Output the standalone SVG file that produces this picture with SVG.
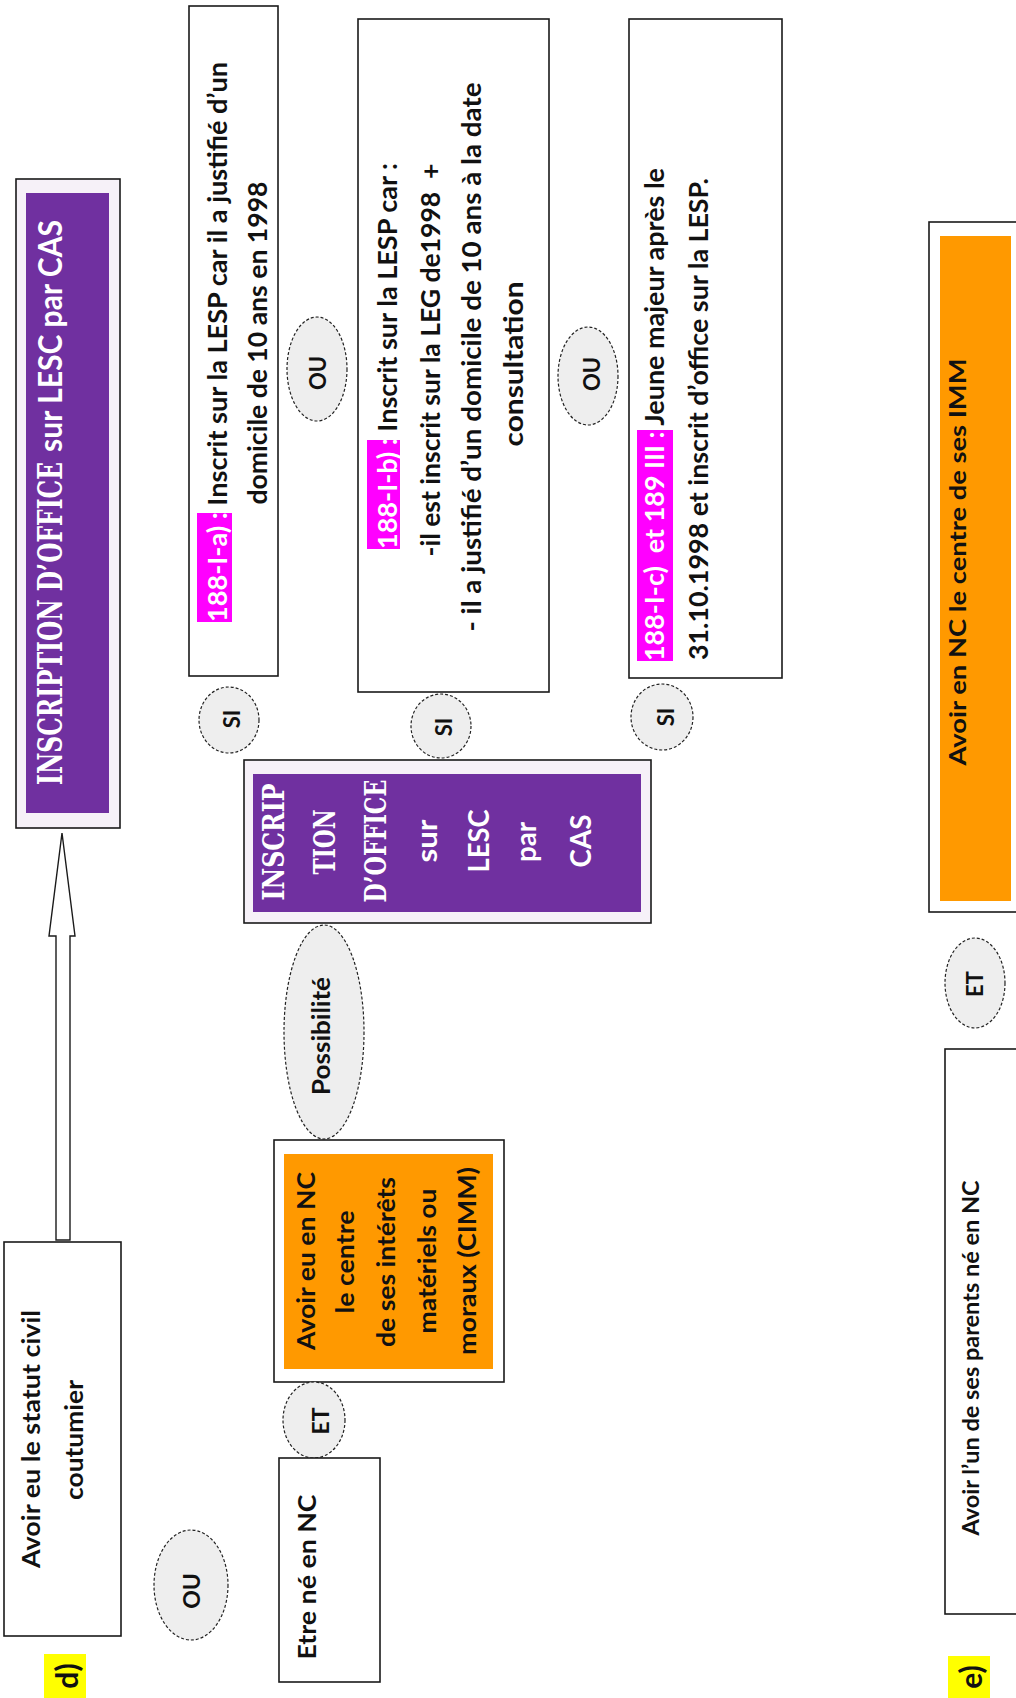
<svg xmlns="http://www.w3.org/2000/svg" width="1016" height="1698" viewBox="0 0 1016 1698">
<style>
.bg{fill:#ffffff}
.box{fill:#ffffff;stroke:#1a1a1a;stroke-width:1.6}
.pbox{fill:#f6f1f8;stroke:#1a1a1a;stroke-width:1.6}
.purple{fill:#7030a0}
.orange{fill:#ff9900}
.mag{fill:#ff00ff}
.yel{fill:#ffff00}
.ell{fill:#eeeeee;stroke:#222222;stroke-width:1.2;stroke-dasharray:3 2}
.t{font-family:Lato,"Open Sans","Liberation Sans",sans-serif;font-weight:bold;fill:#111111}
.w{fill:#ffffff}
.serif{font-family:"DejaVu Serif","Liberation Serif",serif;font-weight:bold}
.arrow{fill:#ffffff;stroke:#1a1a1a;stroke-width:1.4}
</style>
<rect class="bg" x="0" y="0" width="1016" height="1698"/>

<g id="connectors">
  <polygon class="arrow" points="56,1240 56,936 49,936 62,833 75,936 70,936 70,1240"/>
</g>

<g id="node-inscription-top">
  <rect class="pbox" x="16" y="179" width="104" height="649"/>
  <rect class="purple" x="26" y="193" width="83" height="620"/>
  <text class="t w serif" font-size="33" transform="translate(62,785) rotate(-90)" text-anchor="start" textLength="323" lengthAdjust="spacingAndGlyphs">INSCRIPTION D’OFFICE</text>
  <text class="t w" font-size="32" transform="translate(62,452) rotate(-90)" text-anchor="start" textLength="232" lengthAdjust="spacingAndGlyphs">sur LESC par CAS</text>
</g>

<g id="node-188a">
  <rect class="box" x="189" y="6" width="89" height="670"/>
  <rect class="mag" x="197" y="513" width="35" height="109"/>
  <text class="t" font-size="26" transform="translate(227,342) rotate(-90)" text-anchor="middle" textLength="560" lengthAdjust="spacingAndGlyphs"><tspan class="w">188-I-a) :</tspan> Inscrit sur la LESP car il a justifié d’un</text>
  <text class="t" font-size="26" transform="translate(267,343) rotate(-90)" text-anchor="middle" textLength="323" lengthAdjust="spacingAndGlyphs">domicile de 10 ans en 1998</text>
</g>

<g id="node-ou-1">
  <ellipse class="ell" cx="317" cy="369" rx="30" ry="52"/>
  <text class="t" font-size="22" transform="translate(326,373) rotate(-90)" text-anchor="middle">OU</text>
</g>

<g id="node-188b">
  <rect class="box" x="358" y="19" width="191" height="673"/>
  <rect class="mag" x="367" y="440" width="33" height="109"/>
  <text class="t" font-size="26" transform="translate(397,356) rotate(-90)" text-anchor="middle" textLength="386" lengthAdjust="spacingAndGlyphs"><tspan class="w">188-I-b) :</tspan> Inscrit sur la LESP car :</text>
  <text class="t" font-size="26" transform="translate(440,360) rotate(-90)" text-anchor="middle" textLength="393" lengthAdjust="spacingAndGlyphs">-il est inscrit sur la LEG de1998 &#160;+</text>
  <text class="t" font-size="26" transform="translate(481,357) rotate(-90)" text-anchor="middle" textLength="549" lengthAdjust="spacingAndGlyphs">- il a justifié d’un domicile de 10 ans à la date</text>
  <text class="t" font-size="26" transform="translate(523,364) rotate(-90)" text-anchor="middle" textLength="165" lengthAdjust="spacingAndGlyphs">consultation</text>
</g>

<g id="node-ou-2">
  <ellipse class="ell" cx="588" cy="376" rx="30" ry="49"/>
  <text class="t" font-size="22" transform="translate(600,374) rotate(-90)" text-anchor="middle">OU</text>
</g>

<g id="node-188c">
  <rect class="box" x="629" y="19" width="153" height="659"/>
  <rect class="mag" x="637" y="430" width="36" height="231"/>
  <text class="t" font-size="26" transform="translate(664,661) rotate(-90)" text-anchor="start" textLength="493" lengthAdjust="spacingAndGlyphs"><tspan class="w">188-I-c) &#160;et 189 III :</tspan> Jeune majeur après le</text>
  <text class="t" font-size="26" transform="translate(708,660) rotate(-90)" text-anchor="start" textLength="482" lengthAdjust="spacingAndGlyphs">31.10.1998 et inscrit d’office sur la LESP.</text>
</g>

<g id="node-si-1">
  <ellipse class="ell" cx="229" cy="720" rx="30" ry="33"/>
  <text class="t" font-size="22" transform="translate(240,719) rotate(-90)" text-anchor="middle">SI</text>
</g>
<g id="node-si-2">
  <ellipse class="ell" cx="441" cy="726" rx="30" ry="32"/>
  <text class="t" font-size="22" transform="translate(452,727) rotate(-90)" text-anchor="middle">SI</text>
</g>
<g id="node-si-3">
  <ellipse class="ell" cx="662" cy="717" rx="31" ry="33"/>
  <text class="t" font-size="22" transform="translate(674,717) rotate(-90)" text-anchor="middle">SI</text>
</g>

<g id="node-inscription-mid">
  <rect class="pbox" x="244" y="760" width="407" height="163"/>
  <rect class="purple" x="253" y="774" width="388" height="138"/>
  <text class="t w serif" font-size="30" transform="translate(284,842) rotate(-90)" text-anchor="middle" textLength="117" lengthAdjust="spacingAndGlyphs">INSCRIP</text>
  <text class="t w serif" font-size="30" transform="translate(335,842) rotate(-90)" text-anchor="middle" textLength="65" lengthAdjust="spacingAndGlyphs">TION</text>
  <text class="t w serif" font-size="30" transform="translate(386,841) rotate(-90)" text-anchor="middle" textLength="123" lengthAdjust="spacingAndGlyphs">D’OFFICE</text>
  <text class="t w" font-size="28" transform="translate(437,841) rotate(-90)" text-anchor="middle" textLength="43" lengthAdjust="spacingAndGlyphs">sur</text>
  <text class="t w" font-size="28" transform="translate(489,841) rotate(-90)" text-anchor="middle" textLength="63" lengthAdjust="spacingAndGlyphs">LESC</text>
  <text class="t w" font-size="28" transform="translate(536,842) rotate(-90)" text-anchor="middle" textLength="40" lengthAdjust="spacingAndGlyphs">par</text>
  <text class="t w" font-size="28" transform="translate(591,841) rotate(-90)" text-anchor="middle" textLength="53" lengthAdjust="spacingAndGlyphs">CAS</text>
</g>

<g id="node-possibilite">
  <ellipse class="ell" cx="324" cy="1032" rx="40" ry="107"/>
  <text class="t" font-size="25" transform="translate(330,1036) rotate(-90)" text-anchor="middle" textLength="118" lengthAdjust="spacingAndGlyphs">Possibilité</text>
</g>

<g id="node-cimm">
  <rect class="box" x="274" y="1140" width="230" height="242"/>
  <rect class="orange" x="284" y="1154" width="209" height="215"/>
  <text class="t" font-size="25" transform="translate(315,1261) rotate(-90)" text-anchor="middle" textLength="178" lengthAdjust="spacingAndGlyphs">Avoir eu en NC</text>
  <text class="t" font-size="25" transform="translate(354,1262) rotate(-90)" text-anchor="middle" textLength="103" lengthAdjust="spacingAndGlyphs">le centre</text>
  <text class="t" font-size="25" transform="translate(395,1262) rotate(-90)" text-anchor="middle" textLength="170" lengthAdjust="spacingAndGlyphs">de ses intérêts</text>
  <text class="t" font-size="25" transform="translate(436,1261) rotate(-90)" text-anchor="middle" textLength="145" lengthAdjust="spacingAndGlyphs">matériels ou</text>
  <text class="t" font-size="25" transform="translate(476,1261) rotate(-90)" text-anchor="middle" textLength="188" lengthAdjust="spacingAndGlyphs">moraux (CIMM)</text>
</g>

<g id="node-et-1">
  <ellipse class="ell" cx="314" cy="1420" rx="31" ry="38"/>
  <text class="t" font-size="23" transform="translate(329,1421) rotate(-90)" text-anchor="middle">ET</text>
</g>

<g id="node-etre-ne">
  <rect class="box" x="279" y="1458" width="101" height="224"/>
  <text class="t" font-size="25" transform="translate(316,1577) rotate(-90)" text-anchor="middle" textLength="165" lengthAdjust="spacingAndGlyphs">Etre né en NC</text>
</g>

<g id="node-statut">
  <rect class="box" x="4" y="1242" width="117" height="394"/>
  <text class="t" font-size="25" transform="translate(40,1439) rotate(-90)" text-anchor="middle" textLength="258" lengthAdjust="spacingAndGlyphs">Avoir eu le statut civil</text>
  <text class="t" font-size="25" transform="translate(83,1440) rotate(-90)" text-anchor="middle" textLength="120" lengthAdjust="spacingAndGlyphs">coutumier</text>
</g>

<g id="node-ou-3">
  <ellipse class="ell" cx="191" cy="1585" rx="37" ry="55"/>
  <text class="t" font-size="23" transform="translate(200,1591) rotate(-90)" text-anchor="middle">OU</text>
</g>

<g id="node-label-d">
  <rect class="yel" x="44" y="1654" width="42" height="44"/>
  <text class="t" font-size="30" transform="translate(78,1676) rotate(-90)" text-anchor="middle">d)</text>
</g>

<g id="node-imm">
  <rect class="box" x="929" y="222" width="100" height="690"/>
  <rect class="orange" x="940" y="236" width="71" height="665"/>
  <text class="t" font-size="22" transform="translate(966,562) rotate(-90)" text-anchor="middle" textLength="407" lengthAdjust="spacingAndGlyphs">Avoir en NC le centre de ses IMM</text>
</g>

<g id="node-et-2">
  <ellipse class="ell" cx="975" cy="983" rx="30" ry="45"/>
  <text class="t" font-size="22" transform="translate(983,984) rotate(-90)" text-anchor="middle">ET</text>
</g>

<g id="node-parents">
  <rect class="box" x="945" y="1049" width="90" height="565"/>
  <text class="t" font-size="22" transform="translate(979,1358) rotate(-90)" text-anchor="middle" textLength="355" lengthAdjust="spacingAndGlyphs">Avoir l’un de ses parents né en NC</text>
</g>

<g id="node-label-e">
  <rect class="yel" x="948" y="1656" width="42" height="42"/>
  <text class="t" font-size="30" transform="translate(982,1677) rotate(-90)" text-anchor="middle">e)</text>
</g>
</svg>
